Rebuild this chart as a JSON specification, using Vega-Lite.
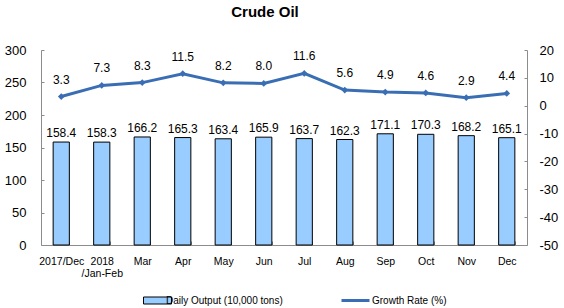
{
  "$schema": "https://vega.github.io/schema/vega-lite/v6.json",
  "width": 486,
  "height": 195,
  "autosize": {"type": "none"},
  "padding": {"left": 41, "top": 50, "right": 37, "bottom": 63},
  "background": "white",
  "config": {
    "font": "Liberation Sans",
    "view": {"stroke": null},
    "axis": {"grid": false, "domainColor": "#8c8c8c", "tickColor": "#8c8c8c", "labelColor": "#000000", "labelFont": "Liberation Sans"}
  },
  "title": {"text": "Crude Oil", "fontSize": 15, "fontWeight": "bold", "font": "Liberation Sans", "color": "#000000", "anchor": "middle", "offset": 24, "dx": -19},
  "data": {
    "values": [
      {"month": "2017/Dec", "output": 158.4, "growth": 3.3},
      {"month": "2018/Jan-Feb", "output": 158.3, "growth": 7.3},
      {"month": "Mar", "output": 166.2, "growth": 8.3},
      {"month": "Apr", "output": 165.3, "growth": 11.5},
      {"month": "May", "output": 163.4, "growth": 8.2},
      {"month": "Jun", "output": 165.9, "growth": 8.0},
      {"month": "Jul", "output": 163.7, "growth": 11.6},
      {"month": "Aug", "output": 162.3, "growth": 5.6},
      {"month": "Sep", "output": 171.1, "growth": 4.9},
      {"month": "Oct", "output": 170.3, "growth": 4.6},
      {"month": "Nov", "output": 168.2, "growth": 2.9},
      {"month": "Dec", "output": 165.1, "growth": 4.4}
    ]
  },
  "encoding": {
    "x": {
      "field": "month", "type": "nominal", "sort": null,
      "scale": {"paddingInner": 0.6, "paddingOuter": 0.3},
      "axis": {
        "title": null, "labelAngle": 0, "labelFontSize": 10.5, "labelPadding": 15,
        "tickBand": "extent", "tickSize": -4, "labelLineHeight": 12,
        "labelExpr": "datum.value == '2018/Jan-Feb' ? ['2018', '/Jan-Feb'] : datum.value"
      }
    }
  },
  "layer": [
    {
      "encoding": {
        "y": {
          "field": "output", "type": "quantitative",
          "scale": {"domain": [0, 300]},
          "axis": {"title": null, "values": [0, 50, 100, 150, 200, 250, 300], "labelFontSize": 13, "tickSize": -3, "labelPadding": 18}
        }
      },
      "layer": [
        {
          "mark": {"type": "bar", "stroke": "#000000", "strokeWidth": 1},
          "encoding": {
            "fill": {
              "datum": "Daily Output (10,000 tons)",
              "scale": {"range": ["#99CCFF"]},
              "legend": {
                "title": null, "orient": "none", "legendX": 109, "legendY": 243,
                "symbolType": "M-2,-0.5H2V0.5H-2Z", "symbolSize": 196,
                "symbolStrokeColor": "#000000", "symbolStrokeWidth": 1,
                "labelFontSize": 10, "labelColor": "#000000", "labelOffset": 1
              }
            }
          }
        },
        {
          "mark": {"type": "text", "dy": -9, "fontSize": 12, "color": "#000000"},
          "encoding": {"text": {"field": "output", "type": "quantitative", "format": ".1f"}}
        }
      ]
    },
    {
      "encoding": {
        "y": {
          "field": "growth", "type": "quantitative",
          "scale": {"domain": [-50, 20]},
          "axis": {"title": null, "orient": "right", "values": [-50, -40, -30, -20, -10, 0, 10, 20], "labelFontSize": 13, "tickSize": -3, "labelPadding": 15, "labelExpr": "replace(datum.label, '\u2212', '-')"}
        }
      },
      "layer": [
        {
          "mark": {"type": "line", "strokeWidth": 3},
          "encoding": {
            "stroke": {
              "datum": "Growth Rate (%)",
              "scale": {"range": ["#3A6EB4"]},
              "legend": {
                "title": null, "orient": "none", "legendX": 299, "legendY": 235,
                "symbolType": "stroke", "symbolSize": 784, "symbolStrokeWidth": 3,
                "labelFontSize": 10, "labelColor": "#000000", "labelOffset": 1
              }
            }
          }
        },
        {
          "mark": {"type": "point", "shape": "diamond", "filled": true, "size": 45, "color": "#3A6EB4", "opacity": 1}
        },
        {
          "mark": {"type": "text", "dy": -17, "fontSize": 12, "color": "#000000"},
          "encoding": {"text": {"field": "growth", "type": "quantitative", "format": ".1f"}}
        }
      ]
    }
  ],
  "resolve": {"scale": {"y": "independent", "fill": "independent", "stroke": "independent"}}
}
